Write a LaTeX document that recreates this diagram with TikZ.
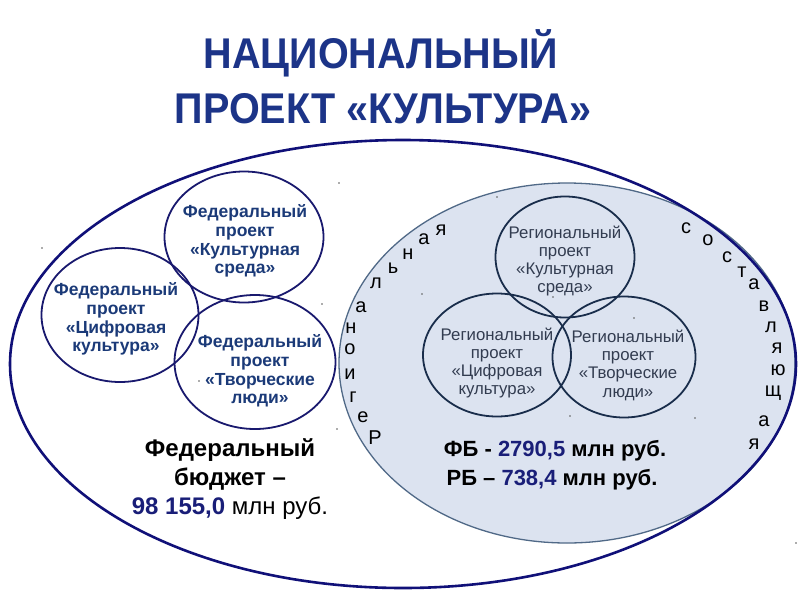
\documentclass[tikz,border=0pt]{standalone}
\usepackage{fontspec}
\setmainfont{Liberation Sans}
\newfontfamily\titlefont[FakeStretch=0.92]{Liberation Sans}
\usetikzlibrary{shapes.geometric}
\definecolor{titleblue}{RGB}{28,52,136}
\definecolor{fedtext}{RGB}{27,58,120}
\definecolor{outerline}{RGB}{16,16,120}
\definecolor{fedline}{RGB}{25,25,110}
\definecolor{shadefill}{RGB}{220,227,240}
\definecolor{shadeline}{RGB}{80,105,135}
\definecolor{regline}{RGB}{25,45,75}
\definecolor{regtext}{RGB}{50,60,80}
\definecolor{numblue}{RGB}{25,30,120}
\definecolor{dotgray}{RGB}{90,90,90}
\begin{document}
\begin{tikzpicture}[x=1pt,y=-1pt,
  ell/.style={ellipse, inner sep=0pt, outer sep=0pt},
  outerell/.style={ell, draw=outerline, line width=2.6pt},
  shadeell/.style={ell, draw=shadeline, fill=shadefill, line width=1.3pt},
  fedcirc/.style={ell, draw=fedline, line width=1.8pt},
  regcirc/.style={ell, draw=regline, line width=1.8pt},
  fedlabel/.style={align=center, text=fedtext, inner sep=0pt, font=\fontsize{17.5}{18.6}\selectfont\bfseries},
  reglabel/.style={align=center, text=regtext, inner sep=0pt, font=\fontsize{16.8}{18.3}\selectfont},
  titlelabel/.style={text=titleblue, inner sep=0pt, anchor=base, font=\titlefont\fontsize{43}{50}\selectfont\bfseries},
  budget/.style={inner sep=0pt, anchor=base, text=black, font=\fontsize{24}{28}\selectfont},
  arcletter/.style={inner sep=0pt, text=black, font=\fontsize{20}{22}\selectfont},
  dotmark/.style={circle, fill=dotgray, inner sep=0pt, minimum size=1.6pt}
]
\useasboundingbox (0,0) rectangle (800,600);
\fill[white] (0,0) rectangle (800,600);

% title
\node[titlelabel] (t1) at (381,68) {НАЦИОНАЛЬНЫЙ};
\node[titlelabel] (t2) at (383,123) {ПРОЕКТ «КУЛЬТУРА»};

% shaded regional ellipse
\node[shadeell, minimum width=456, minimum height=360] (reg) at (567,363) {};
% outer ellipse
\node[outerell, minimum width=786, minimum height=448] (outer) at (403,364) {};

% federal circles
\node[fedcirc, minimum width=159, minimum height=131] (fks) at (244,237) {};
\node[fedcirc, minimum width=157, minimum height=134] (fcd) at (120,315) {};
\node[fedcirc, minimum width=161, minimum height=134] (ftl) at (255,362) {};

% regional circles
\node[regcirc, minimum width=139, minimum height=121] (rks) at (565,257) {};
\node[regcirc, minimum width=148, minimum height=123] (rcd) at (497,355) {};
\node[regcirc, minimum width=143, minimum height=121] (rtl) at (624,357) {};

% federal labels
\node[fedlabel] (lfks) at (245,241) {Федеральный\\проект\\«Культурная\\среда»};
\node[fedlabel] (lfcd) at (116,319) {Федеральный\\проект\\«Цифровая\\культура»};
\node[fedlabel] (lftl) at (260,371) {Федеральный\\проект\\«Творческие\\люди»};

% regional labels
\node[reglabel] (lrks) at (565,261) {Региональный\\проект\\«Культурная\\среда»};
\node[reglabel] (lrcd) at (497,363) {Региональный\\проект\\«Цифровая\\культура»};
\node[reglabel] (lrtl) at (628,365) {Региональный\\проект\\«Творческие\\люди»};

% budget texts
\node[budget, font=\fontsize{24}{28}\selectfont\bfseries] (b1) at (230,456) {Федеральный};
\node[budget, font=\fontsize{24}{28}\selectfont\bfseries] (b2) at (230,485) {бюджет –};
\node[budget] (b3) at (230,514) {\textcolor{numblue}{\textbf{98 155,0}} млн руб.};
\node[budget, font=\fontsize{22}{26}\selectfont\bfseries] (fb) at (555,456) {ФБ - \textcolor{numblue}{2790,5} млн руб.};
\node[budget, font=\fontsize{22}{26}\selectfont\bfseries] (rb) at (552,485) {РБ – \textcolor{numblue}{738,4} млн руб.};

% letters along the left side: Региональная
\foreach \ch/\px/\py [count=\i] in {Р/375/438, е/363/417, г/353/397, и/350/374, о/350/349, н/351/328, а/361/307, л/376/283, ь/393/268, н/408/254, а/424/239, я/441/230}
  \node[arcletter] (la\i) at (\px,\py) {\ch};
% letters along the right side: составляющая
\foreach \ch/\px/\py [count=\i] in {с/686/228, о/708/240, с/727/257, т/742/272, а/754/284, в/764/306, л/771/327, я/777/348, ю/778/370, щ/773/393, а/764/421, я/754/444}
  \node[arcletter] (ra\i) at (\px,\py) {\ch};

% small stray marks
\foreach \px/\py [count=\i] in {339/183, 42/248, 199/381, 322/304, 337/429, 497/197, 422/294, 553/297, 634/318, 570/416, 695/418, 796/543}
  \node[dotmark] (d\i) at (\px,\py) {};
\end{tikzpicture}
\end{document}
